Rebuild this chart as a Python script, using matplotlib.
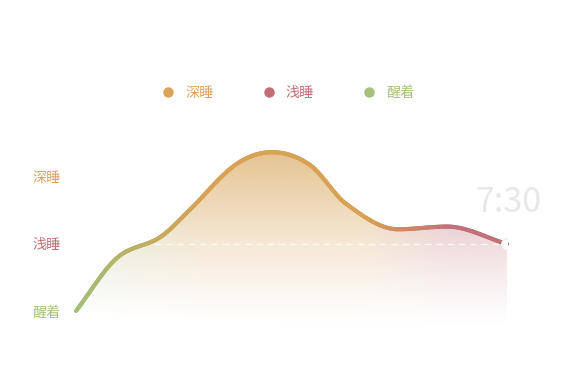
import numpy as np
import matplotlib
matplotlib.use("Agg")
import matplotlib.pyplot as plt
from matplotlib.path import Path
from matplotlib.patches import PathPatch
from matplotlib.collections import LineCollection
from matplotlib.colors import to_rgb
from matplotlib.lines import Line2D

plt.rcParams["font.family"] = ["Noto Sans CJK SC", "DejaVu Sans"]

# hours since falling asleep, sleep depth (0 awake, 1 light, 2 deep)
hours = [0.0, 0.71, 1.46, 1.98, 2.77, 3.41, 4.07, 4.70, 5.60, 6.46, 7.5]
depth = [0.0, 0.79, 1.10, 1.51, 2.18, 2.37, 2.18, 1.60, 1.22, 1.26, 1.0]

stage_labels = ["醒着", "浅睡", "深睡"]
stage_colors = ["#a8c07c", "#bf6e74", "#d9a35a"]
legend_order = [2, 1, 0]
end_label = "7:30"

# colour stops of the line along the time axis
grad_hours = [0.0, 2.2, 5.0, 6.5, 7.5]
grad_colors = ["#a3bd76", "#d8a254", "#d8a254", "#c2717a", "#c2717a"]


def smooth_path(x, y):
    # cubic hermite through the points, flat at local extremes
    x = np.asarray(x, float)
    y = np.asarray(y, float)
    n = len(x)
    m = np.zeros(n)
    m[0] = (y[1] - y[0]) / (x[1] - x[0])
    m[-1] = (y[-1] - y[-2]) / (x[-1] - x[-2])
    for i in range(1, n - 1):
        if (y[i] - y[i - 1]) * (y[i + 1] - y[i]) > 0:
            m[i] = (y[i + 1] - y[i - 1]) / (x[i + 1] - x[i - 1])
    verts = [(x[0], y[0])]
    codes = [Path.MOVETO]
    for i in range(n - 1):
        dx = x[i + 1] - x[i]
        verts += [(x[i] + dx / 3, y[i] + m[i] * dx / 3),
                  (x[i + 1] - dx / 3, y[i + 1] - m[i + 1] * dx / 3),
                  (x[i + 1], y[i + 1])]
        codes += [Path.CURVE4] * 3
    return np.array(verts), codes


def sample_bezier(verts, steps=40):
    out = [verts[0]]
    for i in range(0, len(verts) - 1, 3):
        p0, p1, p2, p3 = verts[i:i + 4]
        s = np.linspace(0, 1, steps)[1:, None]
        seg = ((1 - s) ** 3) * p0 + 3 * ((1 - s) ** 2) * s * p1 + 3 * (1 - s) * s ** 2 * p2 + s ** 3 * p3
        out.extend(seg)
    return np.array(out)


def color_at(h):
    rgb = np.array([to_rgb(c) for c in grad_colors])
    return np.column_stack([np.interp(h, grad_hours, rgb[:, k]) for k in range(3)])


W, H = 561, 374
fig = plt.figure(figsize=(W / 100, H / 100), dpi=100)
y_lo, y_hi = -0.36, 2.55
top_px, bot_px = 311 - y_hi * 67, 311 - y_lo * 67
ax = fig.add_axes([76 / W, 1 - bot_px / H, 431 / W, (bot_px - top_px) / H])
ax.set_xlim(hours[0], hours[-1])
ax.set_ylim(y_lo, y_hi)

verts, codes = smooth_path(hours, depth)
curve = sample_bezier(verts)

# gradient fill under the curve
poly = np.vstack([curve, [[hours[-1], y_lo], [hours[0], y_lo]]])
clip = PathPatch(Path(poly, closed=True), facecolor="none", edgecolor="none")
ax.add_patch(clip)
nx, ny = 300, 200
gx = np.linspace(hours[0], hours[-1], nx)
gy = np.linspace(y_lo, y_hi, ny)
img = np.zeros((ny, nx, 4))
img[:, :, :3] = color_at(gx)[None, :, :]
alpha = np.clip((gy - (-0.25)) / (2.4 + 0.25), 0, 1) ** 1.3 * 0.66
img[:, :, 3] = alpha[:, None]
im = ax.imshow(img, extent=[hours[0], hours[-1], y_lo, y_hi], origin="lower",
               aspect="auto", interpolation="bilinear", zorder=1)
im.set_clip_path(clip)

# dashed reference line
ax.axhline(1.0, color="white", lw=0.9, ls=(0, (5, 4)), alpha=0.8, zorder=2)

# gradient line
segs = np.stack([curve[:-1], curve[1:]], axis=1)
mid = (curve[:-1, 0] + curve[1:, 0]) / 2
lc = LineCollection(segs, colors=color_at(mid), linewidths=3, capstyle="round",
                    zorder=3, clip_on=False)
ax.add_collection(lc)

ax.scatter([hours[-1]], [depth[-1]], s=70, facecolor="white", edgecolor="#eeeeee",
           linewidth=1, zorder=4, clip_on=True)

ax.set_yticks([0, 1, 2])
ax.set_yticklabels(stage_labels, fontsize=10.2)
for lbl, c in zip(ax.get_yticklabels(), stage_colors):
    lbl.set_color(c)
ax.tick_params(axis="y", length=0, pad=11)
ax.set_xticks([])
for sp in ax.spines.values():
    sp.set_visible(False)
ax.patch.set_alpha(0)

handles = [Line2D([], [], ls="none", marker="o", ms=6.5, color=stage_colors[i])
           for i in legend_order]
fig.legend(handles, [stage_labels[i] for i in legend_order], loc="center",
           bbox_to_anchor=(288 / W, 1 - 93 / H), ncol=3, frameon=False,
           fontsize=10.2, handletextpad=0.7, columnspacing=3.4, handlelength=1.0,
           labelcolor=[stage_colors[i] for i in legend_order])

fig.text(508 / W, 1 - 202 / H, end_label, ha="center", va="center",
         fontsize=24.5, color="#e8e8e8")

fig.savefig("out.png", dpi=100)
